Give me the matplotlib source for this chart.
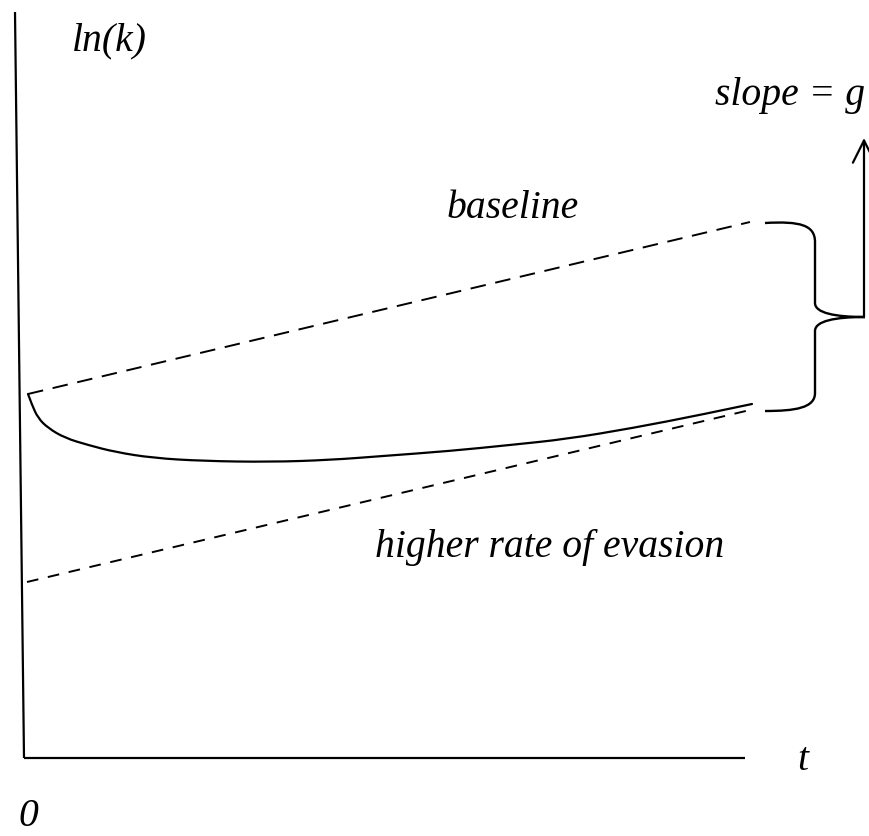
import matplotlib
matplotlib.use("Agg")
import matplotlib.pyplot as plt
from matplotlib.path import Path
from matplotlib.patches import PathPatch

# ---- data (t, ln k) in schematic units ----
axis_y_top = [-0.09, 7.46]          # vertical axis (x at top, y at top)
axis_t_end = 7.21

baseline_t = [0.04, 7.26]
baseline_lnk = [3.64, 5.36]

evasion_t = [0.03, 7.26]
evasion_lnk = [1.76, 3.48]

path_t = [0.04, 0.08, 0.14, 0.24, 0.41, 0.64, 0.91, 1.29, 1.79, 2.46,
          3.06, 3.59, 4.26, 4.86, 5.43, 6.09, 6.76, 7.28]
path_lnk = [3.64, 3.53, 3.40, 3.30, 3.20, 3.13, 3.06, 3.00, 2.97, 2.96,
            2.98, 3.02, 3.07, 3.13, 3.19, 3.30, 3.43, 3.54]

labels = {
    "ln(k)": (0.48, 7.08),
    "baseline": (4.23, 5.40),
    "higher rate of evasion": (3.51, 2.01),
    "slope = g": (6.91, 6.53),
    "t": (7.73, -0.12),
    "0": (-0.06, -0.68),
}

W, H, DPI = 870, 836, 100
fig = plt.figure(figsize=(W / DPI, H / DPI), dpi=DPI)
ax = fig.add_axes([0, 0, 1, 1])
ax.set_xlim(-0.24, 8.46)
ax.set_ylim(-0.78, 7.58)
ax.axis("off")

# axes
ax.plot([axis_y_top[0], 0], [axis_y_top[1], 0], color="black", lw=1.6,
        solid_capstyle="butt")
ax.plot([0, axis_t_end], [0, 0], color="black", lw=1.6, solid_capstyle="butt")

# dashed lines
ax.plot(baseline_t, baseline_lnk, color="black", lw=1.4, dashes=(8, 5))
ax.plot(evasion_t, evasion_lnk, color="black", lw=1.4, dashes=(6, 5))

# transition path drawn as a smooth quadratic B-spline through the read points
pts = list(zip(path_t, path_lnk))
verts = [pts[0]]
codes = [Path.MOVETO]
for i in range(1, len(pts) - 1):
    ctrl = pts[i]
    if i < len(pts) - 2:
        end = ((pts[i][0] + pts[i + 1][0]) / 2, (pts[i][1] + pts[i + 1][1]) / 2)
    else:
        end = pts[-1]
    verts += [ctrl, end]
    codes += [Path.CURVE3, Path.CURVE3]
ax.add_patch(PathPatch(Path(verts, codes), fill=False, lw=1.6,
                       edgecolor="black", capstyle="round"))


def px(x, y):
    return ((x - 24) / 100.0, (758 - y) / 100.0)


# curly brace
verts_px = [(765, 223),
            (800, 221), (815, 225), (815, 242),
            (815, 303),
            (815, 313), (835, 317), (865, 317),
            (835, 317), (815, 321), (815, 331),
            (815, 393),
            (815, 408), (795, 411), (765, 411)]
bcodes = [Path.MOVETO,
          Path.CURVE4, Path.CURVE4, Path.CURVE4,
          Path.LINETO,
          Path.CURVE4, Path.CURVE4, Path.CURVE4,
          Path.CURVE4, Path.CURVE4, Path.CURVE4,
          Path.LINETO,
          Path.CURVE4, Path.CURVE4, Path.CURVE4]
brace = Path([px(*v) for v in verts_px], bcodes)
ax.add_patch(PathPatch(brace, fill=False, lw=1.7, edgecolor="black"))

# arrow
ax.annotate("", xy=px(864, 138), xytext=px(864, 317),
            arrowprops=dict(arrowstyle="->,head_length=0.8,head_width=0.4",
                            mutation_scale=20, lw=1.6, color="black",
                            shrinkA=0, shrinkB=0))

font = dict(family="Liberation Serif", style="italic", size=28.5,
            color="black")
for txt, (x, y) in labels.items():
    ax.text(x, y, txt, ha="left", va="baseline", **font)

fig.savefig("out.png", dpi=DPI)
